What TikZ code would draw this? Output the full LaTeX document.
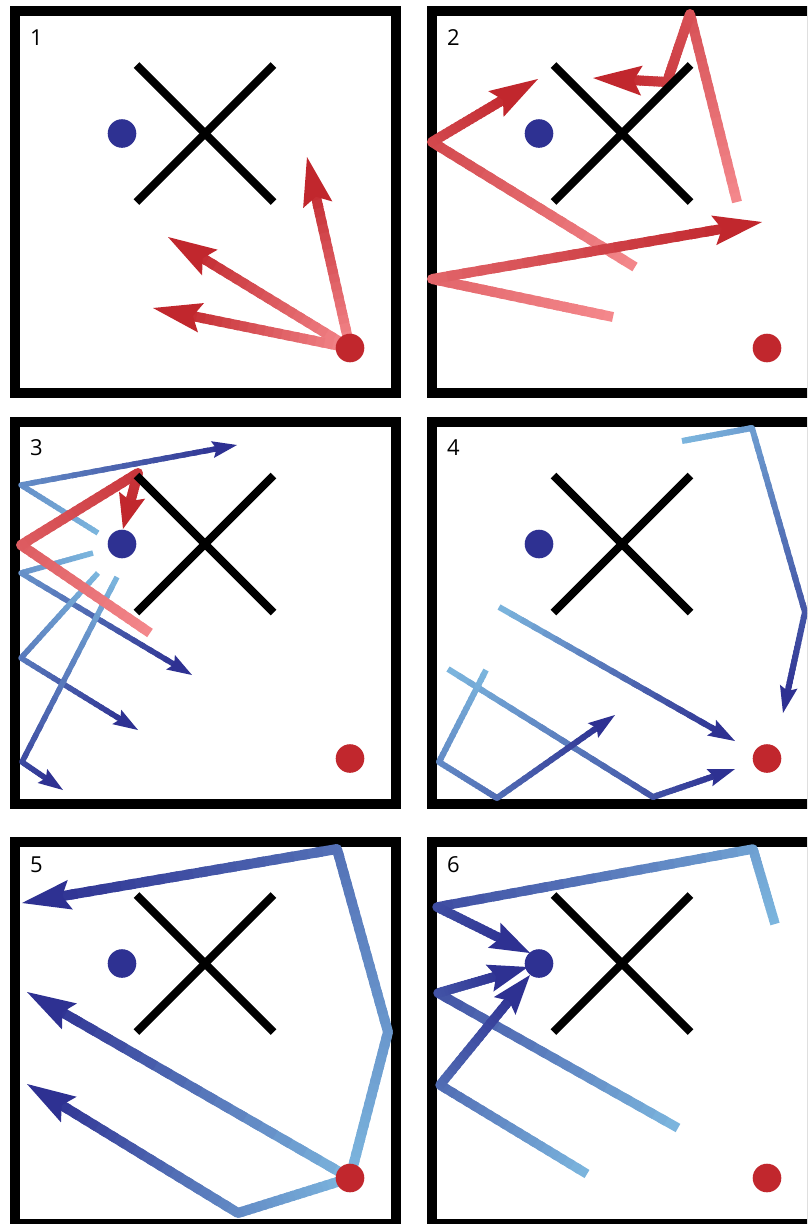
\documentclass[tikz,border=0pt]{standalone}
\usepackage{fontspec}
\setmainfont{Open Sans}
\usetikzlibrary{calc}
\definecolor{redL}{RGB}{244,136,140}
\definecolor{redD}{RGB}{193,39,45}
\definecolor{blueL}{RGB}{124,182,222}
\definecolor{blueD}{RGB}{46,49,146}
% gradient segment: light, dark, width, (p1), (p2), f1, f2
\newcommand\gseg[7]{%
  \foreach \k in {1,...,20}{%
    \pgfmathsetmacro\ta{(\k-1)/20}%
    \pgfmathsetmacro\tb{min(1,(\k+0.5)/20)}%
    \pgfmathsetmacro\pc{#6+(#7-#6)*(\k-0.5)/20}%
    \draw[line width=#3pt, draw=#2!\pc!#1] ($#4!\ta!#5$) -- ($#4!\tb!#5$);
  }%
}
% vertex dot: light, dark, width, (v), f
\newcommand\gvx[5]{%
  \pgfmathsetmacro\vr{#3/2}%
  \fill[#2!#5!#1] #4 circle (\vr pt);%
}
% arrow head: dark, (prev), (tip), L, W
\newcommand\ghead[5]{%
  \pgfmathsetmacro\hw{#5/2}%
  \pgfmathsetmacro\hi{0.83*#4}%
  \coordinate (hB) at ($#3!#4pt!#2$);
  \coordinate (hI) at ($#3!\hi pt!#2$);
  \fill[#1] #3 -- ($(hB)!\hw pt!90:#3$) -- (hI) -- ($(hB)!\hw pt!-90:#3$) -- cycle;%
}
% gradient arrow: light, dark, width, (prev), (tip), f1, L, W
\newcommand\garrow[8]{%
  \pgfmathsetmacro\sd{0.55*#7}%
  \coordinate (aE) at ($#5!\sd pt!#4$);
  \gseg{#1}{#2}{#3}{#4}{(aE)}{#6}{100}%
  \ghead{#2}{#4}{#5}{#7}{#8}%
}
\tikzset{
  frame/.style={draw=black, line width=10pt},
  xarm/.style={draw=black, line width=8pt, line cap=butt},
  lbl/.style={font=\fontsize{22}{26}\selectfont, anchor=base west, inner sep=0pt},
  bdot/.style={circle, fill=blueD, draw=none, inner sep=0pt, minimum size=28.6pt},
  rdot/.style={circle, fill=redD, draw=none, inner sep=0pt, minimum size=28.6pt}
}
\begin{document}
\begin{tikzpicture}[x=1pt,y=-1pt]
\useasboundingbox (0,0) rectangle (807,1224);
\clip (0,0) rectangle (807,1224);
% frames
\foreach \cx in {15,431.7}{\foreach \ry in {11,422,842}{
  \draw[frame] (\cx,\ry) rectangle ++(380.5,382);}}
% labels
\node[lbl] (l1) at (30,45) {1};
\node[lbl] (l2) at (447,45) {2};
\node[lbl] (l3) at (30,455) {3};
\node[lbl] (l4) at (447,455) {4};
\node[lbl] (l5) at (30,872) {5};
\node[lbl] (l6) at (447,872) {6};

% ---------- panel 1
\garrow{redL}{redD}{10}{(350,348)}{(307,157)}{0}{49}{30}
\garrow{redL}{redD}{10}{(350,348)}{(168,237)}{0}{49}{30}
\garrow{redL}{redD}{10}{(350,348)}{(153,308)}{0}{49}{30}

% ---------- panel 2
\gseg{redL}{redD}{10}{(737,202)}{(690,14)}{0}{57}
\gvx{redL}{redD}{10}{(690,14)}{57}
\gseg{redL}{redD}{10}{(690,14)}{(667,82)}{57}{78}
\gvx{redL}{redD}{10}{(667,82)}{78}
\garrow{redL}{redD}{10}{(667,82)}{(593,78)}{78}{49}{30}

\gseg{redL}{redD}{10}{(635,267)}{(432,142)}{0}{66}
\gvx{redL}{redD}{10}{(432,142)}{66}
\garrow{redL}{redD}{10}{(432,142)}{(538,79)}{66}{49}{30}

\gseg{redL}{redD}{10}{(613,317)}{(432,279)}{0}{36}
\gvx{redL}{redD}{10}{(432,279)}{36}
\garrow{redL}{redD}{10}{(432,279)}{(762,222)}{36}{49}{30}

% ---------- panel 3
\gseg{blueL}{blueD}{5.5}{(98,533)}{(21,485)}{0}{29}
\gvx{blueL}{blueD}{5.5}{(21,485)}{29}
\garrow{blueL}{blueD}{5.5}{(21,485)}{(237,445)}{29}{25}{17}

\gseg{blueL}{blueD}{5.5}{(93,553)}{(21,573)}{0}{27}
\gvx{blueL}{blueD}{5.5}{(21,573)}{27}
\garrow{blueL}{blueD}{5.5}{(21,573)}{(192,675)}{27}{25}{17}

\gseg{blueL}{blueD}{5.5}{(98,573)}{(21,658)}{0}{45}
\gvx{blueL}{blueD}{5.5}{(21,658)}{45}
\garrow{blueL}{blueD}{5.5}{(21,658)}{(138,730)}{45}{25}{17}

\gseg{blueL}{blueD}{5.5}{(117,577)}{(22,762)}{0}{81}
\gvx{blueL}{blueD}{5.5}{(22,762)}{81}
\garrow{blueL}{blueD}{5.5}{(22,762)}{(63,790)}{81}{25}{17}

\gseg{redL}{redD}{10}{(150,633)}{(21,545)}{0}{45}
\gvx{redL}{redD}{10}{(21,545)}{45}
\gseg{redL}{redD}{10}{(21,545)}{(138,473)}{45}{84}
\gvx{redL}{redD}{10}{(138,473)}{84}
\garrow{redL}{redD}{10}{(138,473)}{(123,529)}{84}{35}{27}

% ---------- panel 4
\gseg{blueL}{blueD}{6}{(682,441)}{(752,428)}{0}{19}
\gvx{blueL}{blueD}{6}{(752,428)}{19}
\gseg{blueL}{blueD}{6}{(752,428)}{(805,612)}{19}{72}
\gvx{blueL}{blueD}{6}{(805,612)}{72}
\garrow{blueL}{blueD}{6}{(805,612)}{(783,713)}{72}{27}{18}

\garrow{blueL}{blueD}{6}{(499,607)}{(735,741)}{0}{27}{18}

\gseg{blueL}{blueD}{6}{(448,669)}{(653,797)}{0}{74}
\gvx{blueL}{blueD}{6}{(653,797)}{74}
\garrow{blueL}{blueD}{6}{(653,797)}{(735,769)}{74}{27}{18}

\gseg{blueL}{blueD}{6}{(486,670)}{(439,762)}{0}{33}
\gvx{blueL}{blueD}{6}{(439,762)}{33}
\gseg{blueL}{blueD}{6}{(439,762)}{(497,798)}{33}{54}
\gvx{blueL}{blueD}{6}{(497,798)}{54}
\garrow{blueL}{blueD}{6}{(497,798)}{(615,715)}{54}{27}{18}

% ---------- panel 5
\gseg{blueL}{blueD}{10}{(350,1178)}{(388,1032)}{0}{23}
\gvx{blueL}{blueD}{10}{(388,1032)}{23}
\gseg{blueL}{blueD}{10}{(388,1032)}{(337,849)}{23}{52}
\gvx{blueL}{blueD}{10}{(337,849)}{52}
\garrow{blueL}{blueD}{10}{(337,849)}{(22,903)}{52}{49}{30}

\garrow{blueL}{blueD}{10}{(350,1178)}{(27,992)}{0}{49}{30}

\gseg{blueL}{blueD}{10}{(350,1178)}{(238,1213)}{0}{32}
\gvx{blueL}{blueD}{10}{(238,1213)}{32}
\garrow{blueL}{blueD}{10}{(238,1213)}{(27,1084)}{32}{49}{30}

% ---------- panel 6
\gseg{blueL}{blueD}{9.5}{(775,924)}{(753,849)}{0}{16}
\gvx{blueL}{blueD}{9.5}{(753,849)}{16}
\gseg{blueL}{blueD}{9.5}{(753,849)}{(437,907)}{16}{79}
\gvx{blueL}{blueD}{9.5}{(437,907)}{79}
\garrow{blueL}{blueD}{9.5}{(437,907)}{(530,953)}{79}{40}{28}

\gseg{blueL}{blueD}{9.5}{(678,1128)}{(438,993)}{0}{75}
\gvx{blueL}{blueD}{9.5}{(438,993)}{75}
\garrow{blueL}{blueD}{9.5}{(438,993)}{(528,967)}{75}{40}{28}

\gseg{blueL}{blueD}{9.5}{(587,1174)}{(440,1085)}{0}{55}
\gvx{blueL}{blueD}{9.5}{(440,1085)}{55}
\garrow{blueL}{blueD}{9.5}{(440,1085)}{(530,975)}{55}{40}{28}

% ---------- crosses and dots
\foreach \dx/\dy/\n in {0/0/1,417/0/2,0/410.5/3,417/410.5/4,0/830/5,417/830/6}{
  \begin{scope}[shift={(\dx,\dy)}]
    \draw[xarm] (136.5,65) -- (273.5,202);
    \draw[xarm] (273.5,65) -- (136.5,202);
    \node[bdot] (blue\n) at (122,133.5) {};
    \node[rdot] (red\n) at (350,348) {};
  \end{scope}
}
\end{tikzpicture}
\end{document}
